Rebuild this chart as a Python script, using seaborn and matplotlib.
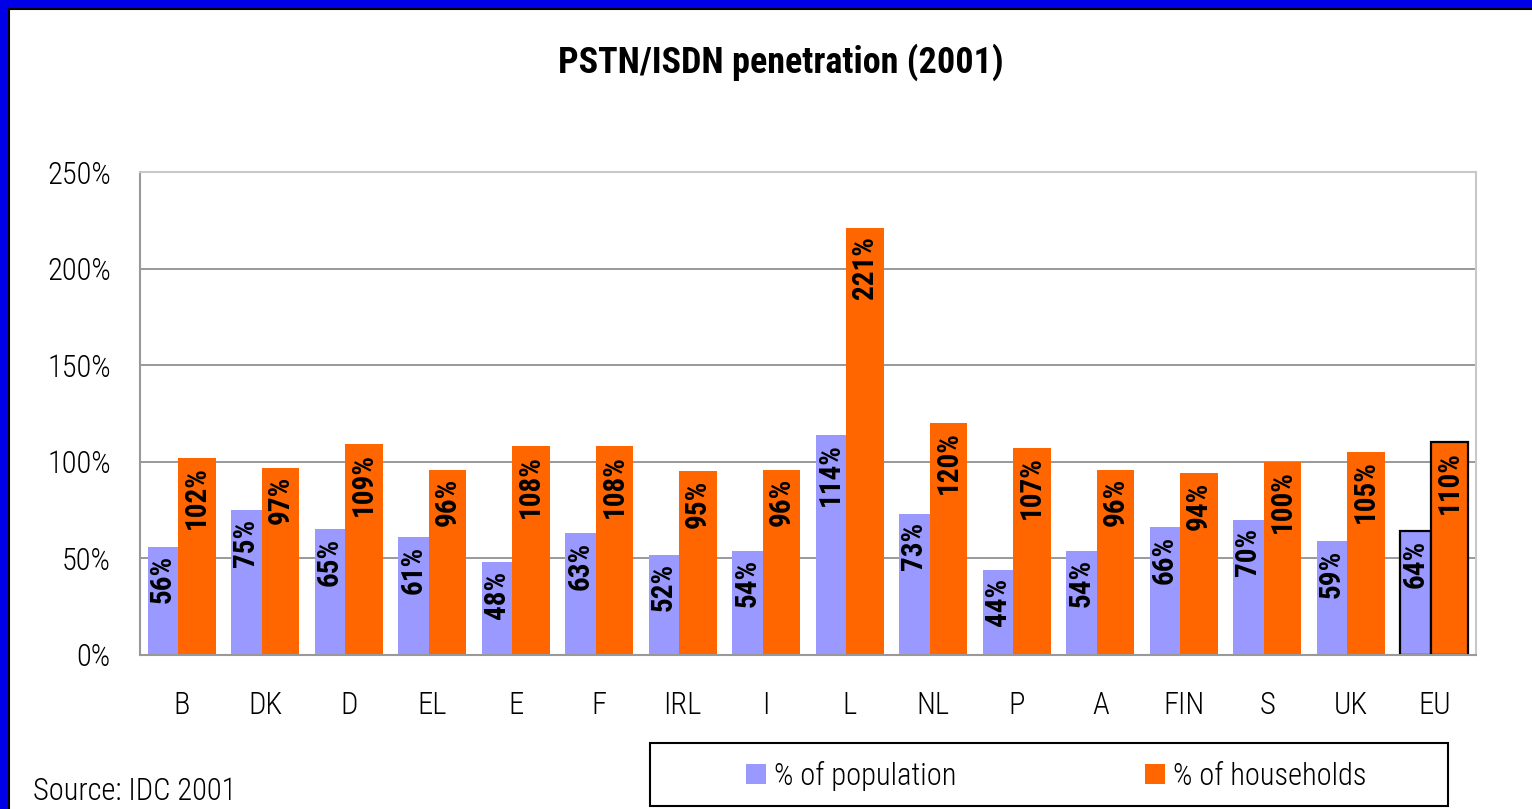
import matplotlib
matplotlib.use("Agg")
import matplotlib.pyplot as plt
from matplotlib.patches import Rectangle, Patch
from matplotlib.lines import Line2D
from matplotlib.ticker import MultipleLocator, FuncFormatter
import seaborn as sns
import pandas as pd

countries = ["B", "DK", "D", "EL", "E", "F", "IRL", "I", "L", "NL",
             "P", "A", "FIN", "S", "UK", "EU"]
pct_population = [56, 75, 65, 61, 48, 63, 52, 54, 114, 73, 44, 54, 66, 70, 59, 64]
pct_households = [102, 97, 109, 96, 108, 108, 95, 96, 221, 120, 107, 96, 94, 100, 105, 110]
series_names = ["% of population", "% of households"]
colors = ["#9999FF", "#FF6600"]

sns.set_style("white")
plt.rcParams["font.family"] = ["Roboto Condensed", "DejaVu Sans"]
plt.rcParams["font.weight"] = "light"
plt.rcParams["text.color"] = "black"
plt.rcParams["xtick.labelcolor"] = "black"
plt.rcParams["ytick.labelcolor"] = "black"

df = pd.DataFrame({
    "country": countries * 2,
    "series": [series_names[0]] * len(countries) + [series_names[1]] * len(countries),
    "value": pct_population + pct_households,
})

W, H = 1532, 809
fig = plt.figure(figsize=(W / 100, H / 100), dpi=100)
ax = fig.add_axes([140 / W, 1 - 655 / H, (1476 - 140) / W, (655 - 172) / H])

sns.barplot(data=df, x="country", y="value", hue="series", palette=colors,
            saturation=1, width=0.8, legend=False, ax=ax, errorbar=None)

# population bars narrower on the left, households wider on the right
for i, bar in enumerate(ax.containers[0]):
    bar.set_x(i - 0.41)
    bar.set_width(0.37)
for i, bar in enumerate(ax.containers[1]):
    bar.set_x(i - 0.04)
    bar.set_width(0.45)

for cont in ax.containers:
    for bar in cont:
        bar.set_linewidth(0)
    # EU bars outlined
    cont[-1].set_edgecolor("black")
    cont[-1].set_linewidth(1.6)

for cont, vals in zip(ax.containers, [pct_population, pct_households]):
    for bar, v in zip(cont, vals):
        ax.annotate(f"{v}%", (bar.get_x() + bar.get_width() / 2, bar.get_height()),
                    xytext=(0, -6), textcoords="offset points", rotation=90,
                    ha="center", va="top", fontsize=21, fontweight="bold")

ax.set_xlim(-0.5, len(countries) - 0.5)
ax.set_ylim(0, 250)
ax.yaxis.set_major_locator(MultipleLocator(50))
ax.yaxis.set_major_formatter(FuncFormatter(lambda v, p: f"{v:.0f}%"))
ax.set_xlabel("")
ax.set_ylabel("")
ax.yaxis.grid(True, color="#999999", lw=1.4)
ax.set_axisbelow(True)

ax.set_xticks(range(len(countries)))
ax.set_xticks([i - 0.5 for i in range(len(countries) + 1)], minor=True)
ax.tick_params(axis="x", which="major", length=0, pad=26, labelsize=22)
ax.tick_params(axis="x", which="minor", length=7, width=1.4, color="#999999", direction="out")
ax.tick_params(axis="y", length=7, width=1.4, color="#999999", pad=14, labelsize=22)

for side in ["left", "bottom"]:
    ax.spines[side].set_color("#999999")
    ax.spines[side].set_linewidth(1.5)
for side in ["top", "right"]:
    ax.spines[side].set_color("#C8C8C8")
    ax.spines[side].set_linewidth(1.5)

fig.text(781 / W, 1 - 62 / H, "PSTN/ISDN penetration (2001)", ha="center", va="center",
         fontsize=26, fontweight="bold")
fig.text(33 / W, 1 - 792 / H, "Source: IDC 2001", ha="left", va="center", fontsize=22)

# legend box
fig.add_artist(Rectangle((650 / W, 1 - 806 / H), (1448 - 650) / W, (806 - 743) / H,
                         transform=fig.transFigure, fill=False, edgecolor="black", lw=1.5))
handles = [Patch(facecolor=c, edgecolor="none") for c in colors]
fig.legend(handles, series_names, loc="center left", bbox_to_anchor=(746 / W, 1 - 776 / H),
           ncol=2, frameon=False, fontsize=22, handlelength=0.65, handleheight=0.65,
           handletextpad=0.25, columnspacing=6.2, borderpad=0, borderaxespad=0)

# blue frame with black inner line (left and top)
blue = "#0000E6"
fig.add_artist(Line2D([4 / W, 4 / W], [0, 1 - 4 / H], transform=fig.transFigure, color=blue, lw=6))
fig.add_artist(Line2D([0, 1], [1 - 4 / H, 1 - 4 / H], transform=fig.transFigure, color=blue, lw=6))
fig.add_artist(Line2D([9 / W, 9 / W], [0, 1 - 9 / H], transform=fig.transFigure, color="black", lw=1.5))
fig.add_artist(Line2D([9 / W, 1], [1 - 9 / H, 1 - 9 / H], transform=fig.transFigure, color="black", lw=1.5))

fig.savefig("out.png", dpi=100)
